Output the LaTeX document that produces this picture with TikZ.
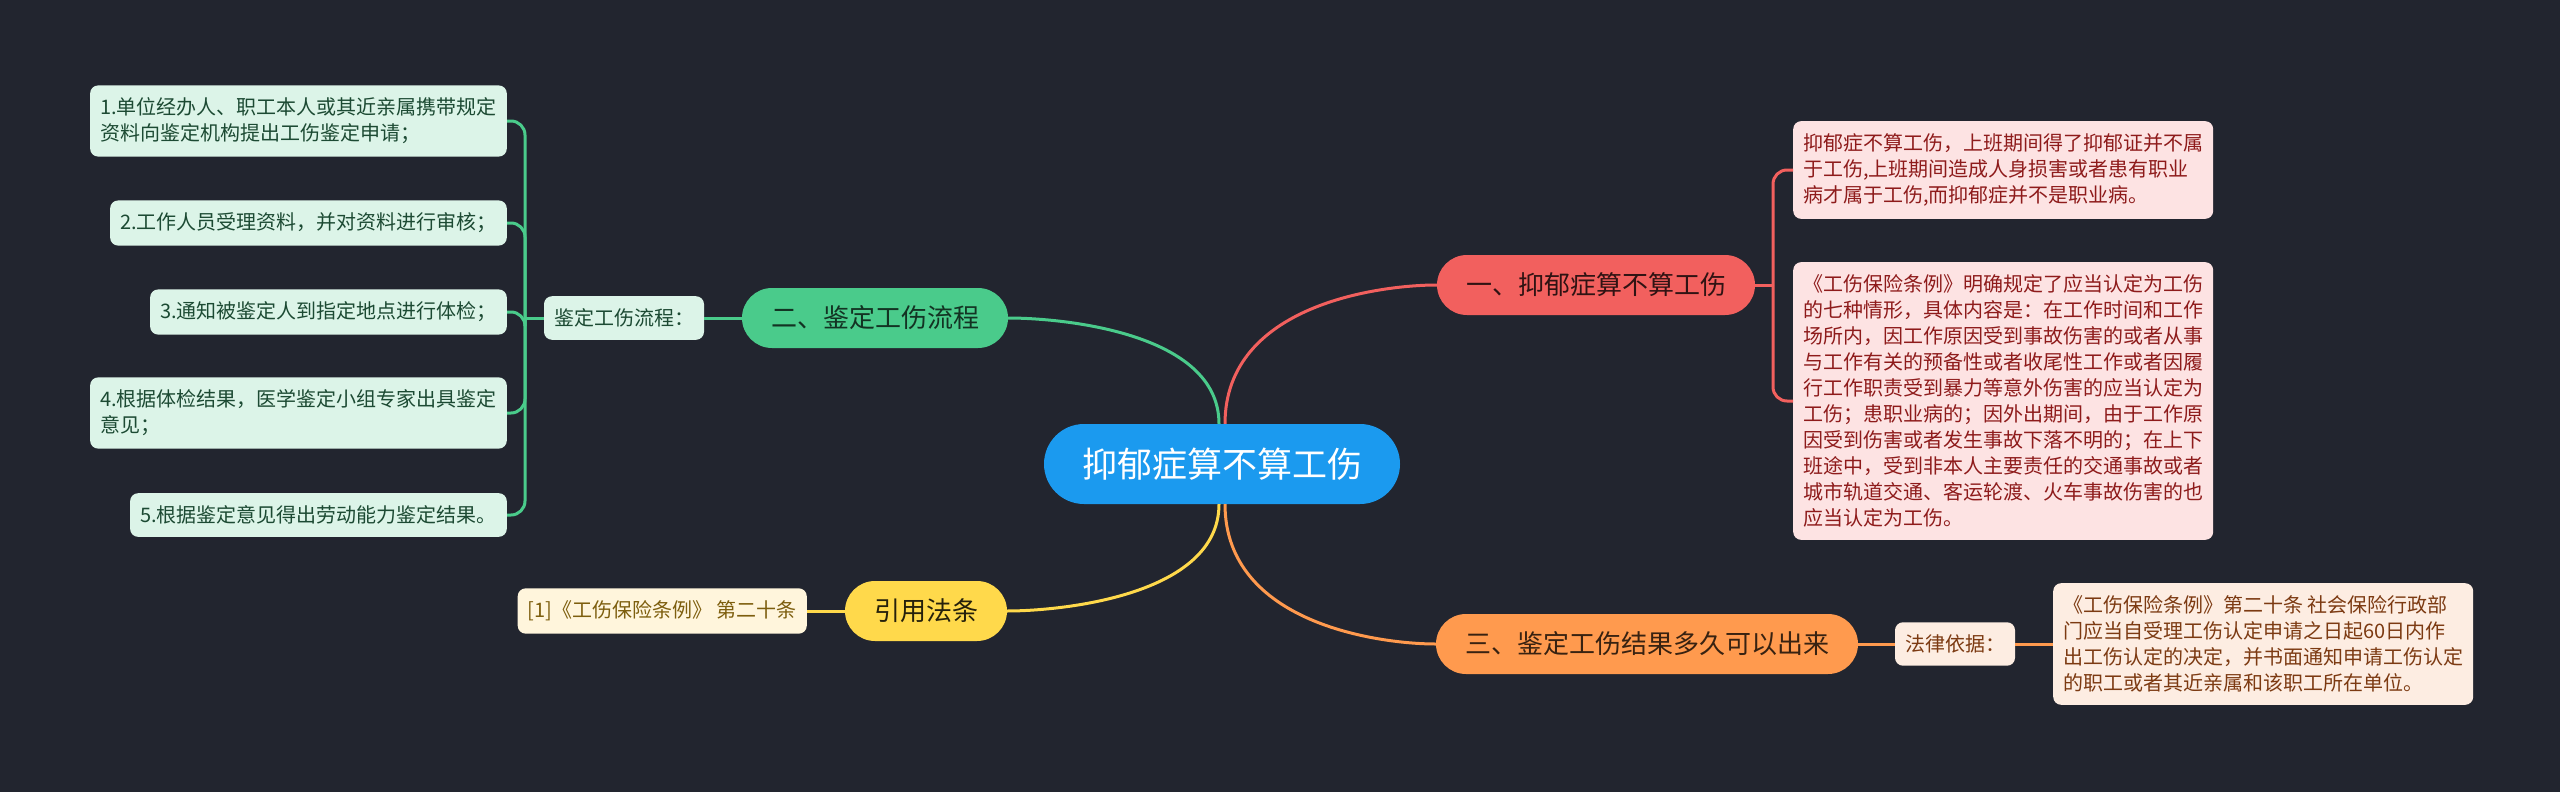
\documentclass[tikz,border=0pt]{standalone}
\usepackage{fontspec}
\setmainfont{Noto Sans CJK SC}
\definecolor{bgc}{HTML}{22252F}
\definecolor{rootc}{HTML}{1B9AEF}
\definecolor{redc}{HTML}{F2605E}
\definecolor{greenc}{HTML}{4ACB8B}
\definecolor{orangec}{HTML}{FF9A4E}
\definecolor{yellowc}{HTML}{FFD94B}
\definecolor{redleaf}{HTML}{FDE3E3}
\definecolor{greenleaf}{HTML}{DCF4E8}
\definecolor{orangeleaf}{HTML}{FDEDE2}
\definecolor{yellowleaf}{HTML}{FFF5DC}
\definecolor{redtext}{HTML}{8E1B1B}
\definecolor{greentext}{HTML}{1C4A33}
\definecolor{orangetext}{HTML}{7C3A12}
\definecolor{yellowtext}{HTML}{7D5E0E}

\begin{document}
\begin{tikzpicture}[x=1pt,y=-1pt,
  mainnode/.style={rounded corners=30pt, minimum height=60pt, inner xsep=29pt, inner ysep=0pt,
    font=\fontsize{26}{30}\selectfont},
  leaf/.style={rounded corners=8pt, inner xsep=10pt, inner ysep=12.5pt, align=left,
    font=\fontsize{20}{26}\selectfont},
  branch/.style={line width=3pt}]
%%Background
\fill[bgc] (0,0) rectangle (2560,792);
\useasboundingbox (0,0) rectangle (2560,792);

%%Root
\node[fill=rootc, text=white, rounded corners=40pt, minimum width=356pt, minimum height=80pt,
  font=\fontsize{35}{40}\selectfont] (root) at (1222,464) {抑郁症算不算工伤};

%%Branches
\node[mainnode, fill=redc, text=redc!20!black] (rc) at (1596,285) {一、抑郁症算不算工伤};
\node[mainnode, fill=greenc, text=greenc!25!black] (gc) at (875,318) {二、鉴定工伤流程};
\node[mainnode, fill=orangec, text=orangec!22!black] (oc) at (1647,644) {三、鉴定工伤结果多久可以出来};
\node[mainnode, fill=yellowc, text=yellowc!15!black] (yc) at (926,611) {引用法条};

%%Leaves
\node[leaf, fill=redleaf, text=redtext, anchor=west] (rl1) at (1793,170)
  {抑郁症不算工伤，上班期间得了抑郁证并不属\\于工伤,上班期间造成人身损害或者患有职业\\病才属于工伤,而抑郁症并不是职业病。};
\node[leaf, fill=redleaf, text=redtext, anchor=west] (rl2) at (1793,401)
  {《工伤保险条例》明确规定了应当认定为工伤\\的七种情形，具体内容是：在工作时间和工作\\场所内，因工作原因受到事故伤害的或者从事\\与工作有关的预备性或者收尾性工作或者因履\\行工作职责受到暴力等意外伤害的应当认定为\\工伤；患职业病的；因外出期间，由于工作原\\因受到伤害或者发生事故下落不明的；在上下\\班途中，受到非本人主要责任的交通事故或者\\城市轨道交通、客运轮渡、火车事故伤害的也\\应当认定为工伤。};

\node[leaf, fill=greenleaf, text=greentext] (gk) at (624,318) {鉴定工伤流程：};
\node[leaf, fill=greenleaf, text=greentext, anchor=east] (gl1) at (507,121)
  {1.单位经办人、职工本人或其近亲属携带规定\\资料向鉴定机构提出工伤鉴定申请；};
\node[leaf, fill=greenleaf, text=greentext, anchor=east] (gl2) at (507,223) {2.工作人员受理资料，并对资料进行审核；};
\node[leaf, fill=greenleaf, text=greentext, anchor=east] (gl3) at (507,312) {3.通知被鉴定人到指定地点进行体检；};
\node[leaf, fill=greenleaf, text=greentext, anchor=east] (gl4) at (507,413)
  {4.根据体检结果，医学鉴定小组专家出具鉴定\\意见；};
\node[leaf, fill=greenleaf, text=greentext, anchor=east] (gl5) at (507,515) {5.根据鉴定意见得出劳动能力鉴定结果。};

\node[leaf, fill=orangeleaf, text=orangetext] (ol1) at (1955,644) {法律依据：};
\node[leaf, fill=orangeleaf, text=orangetext, anchor=west] (ol2) at (2053,644)
  {《工伤保险条例》第二十条 社会保险行政部\\门应当自受理工伤认定申请之日起60日内作\\出工伤认定的决定，并书面通知申请工伤认定\\的职工或者其近亲属和该职工所在单位。};

\node[leaf, fill=yellowleaf, text=yellowtext, anchor=east] (yl1) at (807,611) {[1]《工伤保险条例》 第二十条};

%%Root to branches
\draw[branch, greenc] ([xshift=-3pt]root.north) .. controls +(0,-92) and +(52,0) .. (gc.east);
\draw[branch, redc] ([xshift=3pt]root.north) .. controls +(0,-120) and +(-55,0) .. (rc.west);
\draw[branch, yellowc] ([xshift=-3pt]root.south) .. controls +(0,92) and +(52,0) .. (yc.east);
\draw[branch, orangec] ([xshift=3pt]root.south) .. controls +(0,120) and +(-55,0) .. (oc.west);

%%Branches to leaves
\coordinate (gtr) at (525,318);
\coordinate (rtr) at (1773,285);
\draw[branch, greenc] (gc.west) -- (gk.east);
\draw[branch, greenc] (gk.west) -- (gtr);
\foreach \n in {gl1,gl2,gl3,gl4,gl5}
  \draw[branch, greenc, rounded corners=14pt] (gtr) |- (\n.east);
\draw[branch, redc] (rc.east) -- (rtr);
\foreach \n in {rl1,rl2}
  \draw[branch, redc, rounded corners=14pt] (rtr) |- (\n.west);
\draw[branch, orangec] (oc.east) -- (ol1.west);
\draw[branch, orangec] (ol1.east) -- (ol2.west);
\draw[branch, yellowc] (yc.west) -- (yl1.east);

\end{tikzpicture}
\end{document}
